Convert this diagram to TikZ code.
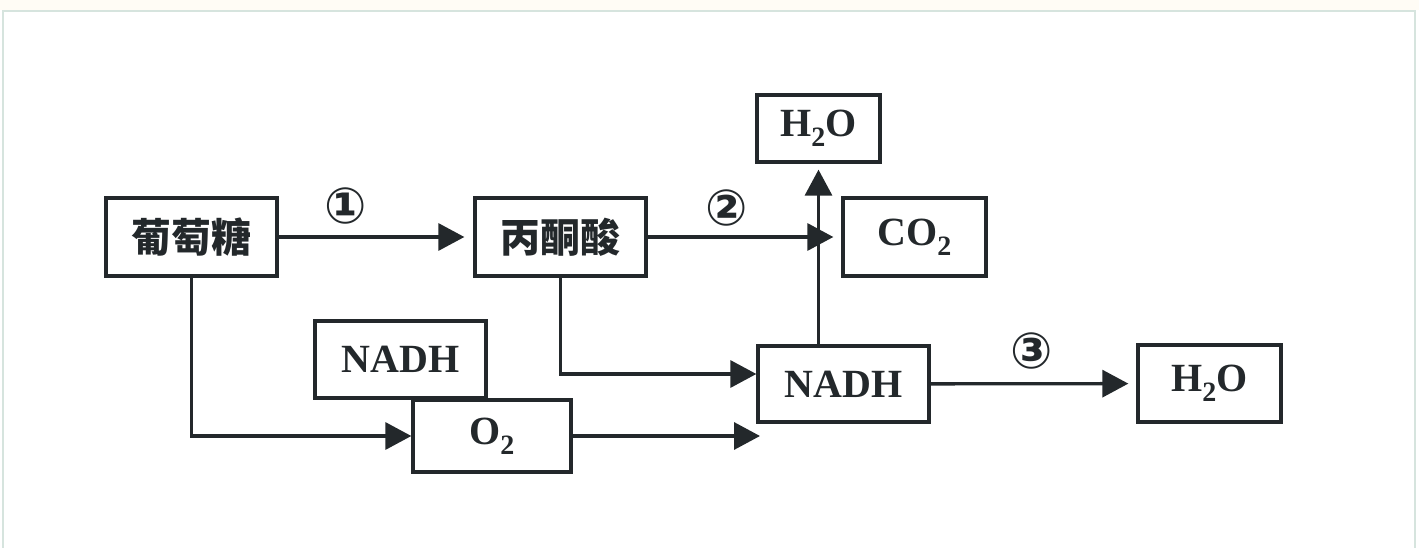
\documentclass[tikz,border=0pt]{standalone}
\usepackage{fontspec}
\setmainfont{Liberation Serif}
\newfontfamily\cjkfont{Noto Sans CJK SC}
\newfontfamily\numfont{DejaVu Sans}
\usetikzlibrary{arrows.meta}
\definecolor{ink}{RGB}{35,40,43}
\definecolor{frameline}{RGB}{214,228,222}
\definecolor{topband}{RGB}{255,252,245}

\begin{document}
\begin{tikzpicture}[x=1pt, y=-1pt,
  box/.style={draw=ink, line width=3.3pt, inner sep=0pt, text=ink,
    font=\fontsize{40}{40}\selectfont\bfseries},
  flow/.style={draw=ink, line width=3.3pt, -{Triangle[length=26pt,width=27pt]}},
  num/.style={text=ink, inner sep=0pt, font=\numfont\fontsize{50}{50}\selectfont\bfseries}]
  \useasboundingbox (0,0) rectangle (1419,548);
  % rand van het blad
  \fill[topband] (0,0) rectangle (1419,10);
  \draw[frameline, line width=2pt] (3,548) -- (3,11) -- (1415,11) -- (1415,548);
  % bovenste rij
  \node[box, minimum width=171pt, minimum height=78pt] (glu) at (191.5,237) {\cjkfont 葡萄糖};
  \node[box, minimum width=171pt, minimum height=78pt] (pyr) at (560.5,237) {\cjkfont 丙酮酸};
  \node[box, minimum width=123pt, minimum height=67pt] (h2oa) at (818.5,128.5) {H\textsubscript{2}O};
  \node[box, minimum width=143pt, minimum height=78pt] (co2) at (914.5,237) {CO\textsubscript{2}};
  % onderste rij
  \node[box, minimum width=171pt, minimum height=77pt] (nadha) at (400.5,359.5) {NADH};
  \node[box, minimum width=158pt, minimum height=72pt] (o2) at (492,436) {O\textsubscript{2}};
  \node[box, minimum width=171pt, minimum height=76pt] (nadhb) at (843.5,384) {NADH};
  \node[box, minimum width=143pt, minimum height=77pt] (h2ob) at (1209.5,383.5) {H\textsubscript{2}O};
  % nummers
  \node[num] (n1) at (346,206) {①};
  \node[num] (n2) at (727,208) {②};
  \node[num] (n3) at (1032,351) {③};
  % pijlen
  \coordinate (o2end) at (760,436);
  \draw[flow, shorten >=9pt] (glu) -- (pyr);
  \draw[flow, shorten >=8pt] (pyr) -- (co2);
  \draw[flow] (glu.south) |- (o2.west);
  \draw[flow] (pyr.south) |- ([yshift=10pt]nadhb.west);
  \draw[flow] (o2.east) -- (o2end);
  \draw[flow, shorten >=6pt] (nadhb.north -| h2oa.south) -- (h2oa.south);
  \draw[flow, shorten >=8pt] (nadhb) -- (h2ob);
\end{tikzpicture}
\end{document}
